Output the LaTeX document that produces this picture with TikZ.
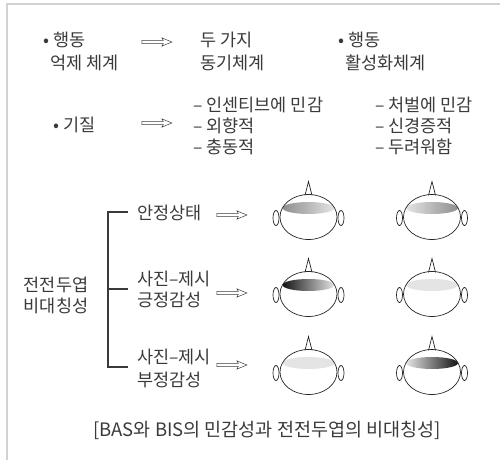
\documentclass[tikz,border=0pt]{standalone}
\usepackage{fontspec}
\setmainfont{Noto Sans CJK KR}
\usetikzlibrary{shapes.arrows}

\definecolor{ink}{HTML}{3A3A3A}
\definecolor{framegray}{HTML}{D2D2D2}
\definecolor{bandlight}{HTML}{E4E4E4}
\definecolor{bandmid}{HTML}{8E8E8E}
\definecolor{banddark}{HTML}{141414}

\tikzset{
  lbl/.style={inner sep=0pt, anchor=west, text=ink, align=left,
    font=\fontsize{17.5}{21}\selectfont},
  lblwide/.style={lbl, font=\fontsize{17.5}{23}\selectfont},
  harrow/.style={single arrow, draw=ink, line width=0.5pt, inner xsep=0pt,
    inner ysep=1.3pt, minimum height=30pt, single arrow head extend=2.6pt,
    single arrow tip angle=45, single arrow head indent=1.5pt},
  headline/.style={draw=black!85, line width=0.7pt},
  bracketline/.style={draw=ink, line width=1.1pt},
  % a head seen from above: face outline, ears, nose tip, frontal band
  pics/brainhead/.style 2 args={code={
    \shade[left color=#1, right color=#2] (0,-9) ellipse [x radius=26, y radius=6];
    \draw[headline] (0,0) ellipse [x radius=28.5, y radius=22.5];
    \draw[headline] (-32.5,1) ellipse [x radius=3, y radius=7.5];
    \draw[headline] (32.5,1) ellipse [x radius=3, y radius=7.5];
    \draw[headline, line join=miter] (-3.5,-21.6) -- (0,-35.5) -- (3.5,-21.6);
  }},
}

\begin{document}
\begin{tikzpicture}[x=1pt, y=-1pt]
  \useasboundingbox (0,0) rectangle (500,460);

  % frame
  \draw[framegray, line width=2.5pt] (7,460) -- (7,4) -- (500,4);

  % upper part: two systems and temperament
  \node[lblwide] (bis)  at (43,51.5)  {• 행동\\\hspace*{7pt}억제 체계};
  \node[harrow]  (ar1)  at (155,42)   {};
  \node[lblwide] (two)  at (200,51.5) {두 가지\\동기체계};
  \node[lblwide] (bas)  at (338,51.5) {• 행동\\\hspace*{7pt}활성화체계};

  \node[lbl]     (temp) at (53,125)   {• 기질};
  \node[harrow]  (ar2)  at (155,123)  {};
  \node[lbl]     (basT) at (193,126)  {– 인센티브에 민감\\– 외향적\\– 충동적};
  \node[lbl]     (bisT) at (375,126)  {– 처벌에 민감\\– 신경증적\\– 두려워함};

  % lower part: frontal asymmetry
  \node[lbl, align=center, anchor=center] (asym) at (56,295.5) {전전두엽\\비대칭성};

  \coordinate (bTop) at (108,212);
  \coordinate (bMid) at (108,289);
  \coordinate (bBot) at (108,367);
  \draw[bracketline] ([xshift=20pt]bTop) -- (bTop) -- (bBot) -- ([xshift=20pt]bBot);
  \draw[bracketline] (bMid) -- ([xshift=20pt]bMid);

  \node[lbl]     (rest) at (137,213)   {안정상태};
  \node[lbl]     (pos)  at (137,289.5) {사진–제시\\긍정감성};
  \node[lblwide] (neg)  at (137,368.5) {사진–제시\\부정감성};

  \node[harrow] (ar3) at (230,215) {};
  \node[harrow] (ar4) at (230,293) {};
  \node[harrow] (ar5) at (230,365) {};

  \pic (hRestL) at (308.5,217) {brainhead={bandmid}{bandlight}};
  \pic (hRestR) at (432,217)   {brainhead={bandlight}{bandmid}};
  \pic (hPosL)  at (308.5,294) {brainhead={banddark}{bandlight}};
  \pic (hPosR)  at (432,294)   {brainhead={bandlight}{bandlight}};
  \pic (hNegL)  at (308.5,372) {brainhead={bandlight}{bandlight}};
  \pic (hNegR)  at (432,372)   {brainhead={bandlight}{banddark}};

  % caption
  \node[lbl, anchor=center, font=\fontsize{18.5}{21}\selectfont] (cap) at (267,430)
    {[BAS와 BIS의 민감성과 전전두엽의 비대칭성]};
\end{tikzpicture}
\end{document}
